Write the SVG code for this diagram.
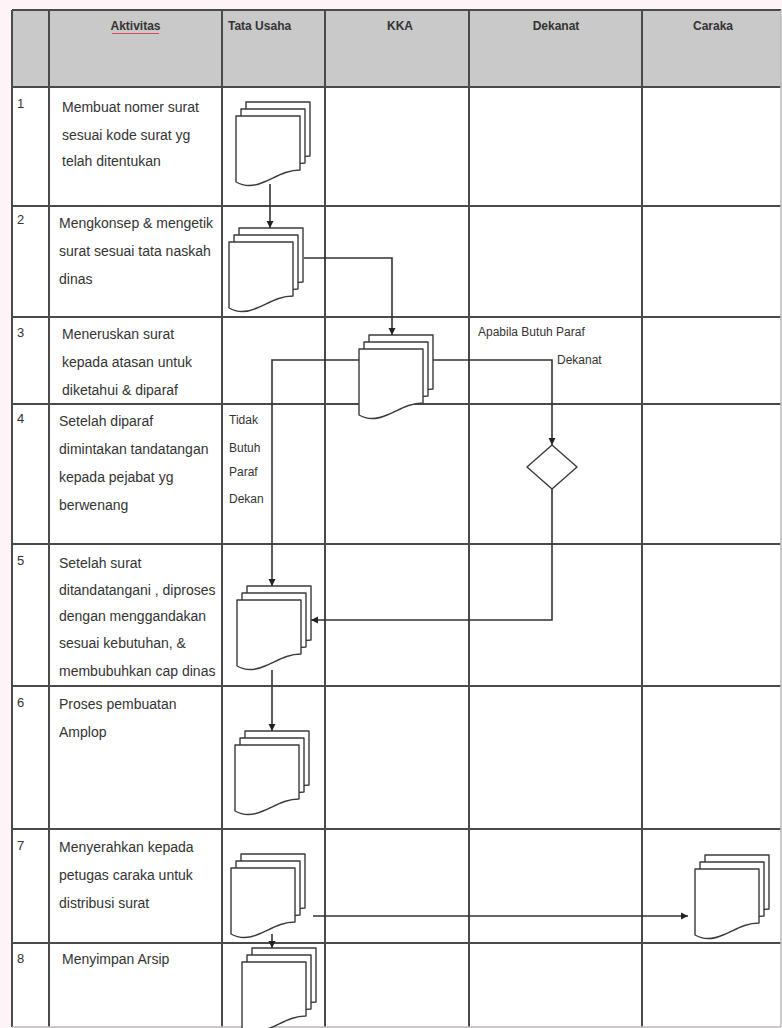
<svg xmlns="http://www.w3.org/2000/svg" xmlns:xlink="http://www.w3.org/1999/xlink" width="782" height="1028" viewBox="0 0 782 1028">
<style>
.grid{stroke:#4a4a4a;stroke-width:2;fill:none}
.t{font-family:"Liberation Sans",Arial,sans-serif;font-size:14px;fill:#333}
.n{font-family:"Liberation Sans",Arial,sans-serif;font-size:13px;fill:#333}
.h{font-family:"Liberation Sans",Arial,sans-serif;font-size:12px;font-weight:bold;fill:#333}
.l{font-family:"Liberation Sans",Arial,sans-serif;font-size:12px;fill:#333}
.doc{fill:#fff;stroke:#3a3a3a;stroke-width:1.4;stroke-linejoin:round}
.con{fill:none;stroke:#333;stroke-width:1.6}
</style>
<defs>
<marker id="ah" markerWidth="8" markerHeight="8" refX="7" refY="4" orient="auto" markerUnits="userSpaceOnUse">
<path d="M0,0.5 L7,4 L0,7.5 Z" fill="#222"/>
</marker>
<g id="mdoc">
<path class="doc" transform="translate(10,-14)" d="M0,0 H64 V54 C50,54 40,61 28,66 C17,71 7,70 0,66 Z"/>
<path class="doc" transform="translate(5,-7)" d="M0,0 H64 V54 C50,54 40,61 28,66 C17,71 7,70 0,66 Z"/>
<path class="doc" d="M0,0 H64 V54 C50,54 40,61 28,66 C17,71 7,70 0,66 Z"/>
</g>
</defs>
<rect x="0" y="0" width="782" height="1028" fill="#fcf4f6"/>
<g id="table">
<rect x="12" y="10" width="769" height="1017" fill="#fff"/>
<rect x="12" y="10" width="769" height="77" fill="#c9c9c9"/>
<path class="grid" d="M12,10 H781 M12,87 H781 M12,206 H781 M12,317 H781 M12,404 H781 M12,544 H781 M12,686 H781 M12,829 H781 M12,943 H781"/>
<path class="grid" d="M12,10 V1027 M49,10 V1027 M222,10 V1027 M325,10 V1027 M469,10 V1027 M642,10 V1027"/>
<path d="M781,10 V1027 M12,1027 H781" stroke="#bbb" stroke-width="1.5" fill="none"/>
</g>
<g id="header">
<text class="h" x="135.5" y="30" text-anchor="middle">Aktivitas</text>
<line x1="112" y1="33.5" x2="159" y2="33.5" stroke="#d9475a" stroke-width="1.2"/>
<text class="h" x="228" y="30">Tata Usaha</text>
<text class="h" x="400" y="30" text-anchor="middle">KKA</text>
<text class="h" x="556" y="30" text-anchor="middle">Dekanat</text>
<text class="h" x="713" y="30" text-anchor="middle">Caraka</text>
</g>
<g id="row1">
<text class="n" x="17" y="108">1</text>
<text class="t" x="62" y="112">Membuat nomer surat</text>
<text class="t" x="62" y="140">sesuai kode surat yg</text>
<text class="t" x="62" y="166">telah ditentukan</text>
</g>
<g id="row2">
<text class="n" x="17" y="224">2</text>
<text class="t" x="59" y="228">Mengkonsep &amp; mengetik</text>
<text class="t" x="59" y="256">surat sesuai tata naskah</text>
<text class="t" x="59" y="284">dinas</text>
</g>
<g id="row3">
<text class="n" x="17" y="337">3</text>
<text class="t" x="62" y="339">Meneruskan surat</text>
<text class="t" x="62" y="367">kepada atasan untuk</text>
<text class="t" x="62" y="395">diketahui &amp; diparaf</text>
</g>
<g id="row4">
<text class="n" x="17" y="423">4</text>
<text class="t" x="59" y="426">Setelah diparaf</text>
<text class="t" x="59" y="454">dimintakan tandatangan</text>
<text class="t" x="59" y="482">kepada pejabat yg</text>
<text class="t" x="59" y="510">berwenang</text>
</g>
<g id="row5">
<text class="n" x="17" y="565">5</text>
<text class="t" x="59" y="568">Setelah surat</text>
<text class="t" x="59" y="595">ditandatangani , diproses</text>
<text class="t" x="59" y="621">dengan menggandakan</text>
<text class="t" x="59" y="648">sesuai kebutuhan, &amp;</text>
<text class="t" x="59" y="676">membubuhkan cap dinas</text>
</g>
<g id="row6">
<text class="n" x="17" y="707">6</text>
<text class="t" x="59" y="709">Proses pembuatan</text>
<text class="t" x="59" y="737">Amplop</text>
</g>
<g id="row7">
<text class="n" x="17" y="850">7</text>
<text class="t" x="59" y="852">Menyerahkan kepada</text>
<text class="t" x="59" y="880">petugas caraka untuk</text>
<text class="t" x="59" y="908">distribusi surat</text>
</g>
<g id="row8">
<text class="n" x="17" y="963">8</text>
<text class="t" x="62" y="964">Menyimpan Arsip</text>
</g>
<g id="connectors">
<path class="con" d="M270,184 V228" marker-end="url(#ah)"/>
<path class="con" d="M304,258 H392 V335" marker-end="url(#ah)"/>
<path class="con" d="M359,360 H272 V586" marker-end="url(#ah)"/>
<path class="con" d="M432,360 H552 V445" marker-end="url(#ah)"/>
<path class="con" d="M552,489 V620 H311" marker-end="url(#ah)"/>
<path class="con" d="M272,670 V731" marker-end="url(#ah)"/>
<path class="con" d="M313,916 H688" marker-end="url(#ah)"/>
<path class="con" d="M272,934 V948" marker-end="url(#ah)"/>
</g>
<g id="labels">
<text class="l" x="478" y="336">Apabila Butuh Paraf</text>
<text class="l" x="557" y="364">Dekanat</text>
<text class="l" x="229" y="424">Tidak</text>
<text class="l" x="229" y="452">Butuh</text>
<text class="l" x="229" y="476">Paraf</text>
<text class="l" x="229" y="503">Dekan</text>
</g>
<g id="doc1"><use xlink:href="#mdoc" x="236" y="116"/></g>
<g id="doc2"><use xlink:href="#mdoc" x="229" y="242"/></g>
<g id="doc3"><use xlink:href="#mdoc" x="359" y="349"/></g>
<g id="decision"><polygon class="doc" points="552,445 577,467 552,489 527,467"/></g>
<g id="doc5"><use xlink:href="#mdoc" x="237" y="600"/></g>
<g id="doc6"><use xlink:href="#mdoc" x="235" y="745"/></g>
<g id="doc7"><use xlink:href="#mdoc" x="231" y="868"/></g>
<g id="doc7c"><use xlink:href="#mdoc" x="695" y="869"/></g>
<g id="doc8"><use xlink:href="#mdoc" x="242" y="962"/></g>
</svg>
